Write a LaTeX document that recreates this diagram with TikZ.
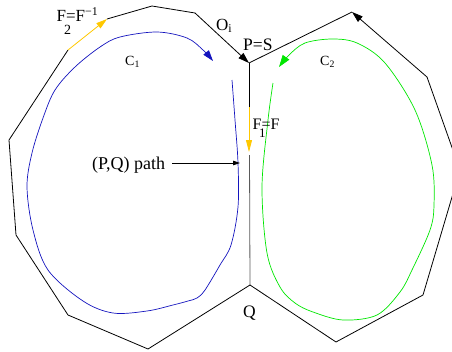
\documentclass[tikz,border=0pt]{standalone}
\usepackage{fontspec}
\setmainfont{Liberation Serif}
\usetikzlibrary{arrows.meta}
\definecolor{cblue}{RGB}{20,20,190}
\definecolor{cgreen}{RGB}{0,230,0}
\definecolor{cyell}{RGB}{255,200,0}
\definecolor{cgray}{RGB}{90,90,90}
\tikzset{
  edge/.style={draw=black,line width=0.8pt},
  bigarr/.style={-{Triangle[length=11pt,width=7pt]}},
  lab/.style={inner sep=0pt,anchor=base west,font=\fontsize{17.5}{17.5}\selectfont},
  flab/.style={inner sep=0pt,anchor=base west,font=\fontsize{17}{17}\selectfont},
  clab/.style={inner sep=0pt,anchor=base west,font=\fontsize{14}{14}\selectfont},
}
\begin{document}
\begin{tikzpicture}[x=1pt,y=-1pt]
\clip (0,0) rectangle (452,351);
% vertices
\coordinate (A) at (68,50);
\coordinate (B) at (107,19);
\coordinate (C) at (152,6);
\coordinate (D) at (195,13);
\coordinate (P) at (249,63);
\coordinate (Y1) at (249,107);
\coordinate (Y2) at (249,152);
\coordinate (G1) at (249.5,155);
\coordinate (Q) at (250,285);
\coordinate (E) at (148,349);
\coordinate (F) at (68,315);
\coordinate (G) at (16,235);
\coordinate (H) at (9,140);
\coordinate (R1) at (352,12);
\coordinate (R2) at (427,77);
\coordinate (R3) at (460,170);
\coordinate (R4) at (423,295);
\coordinate (R5) at (336,342);
% left polygon
\draw[edge] (B) -- (C) -- (D);
\draw[edge,bigarr] (D) -- (P);
\draw[edge] (P) -- (Y1);
\draw[draw=cyell,line width=0.8pt,-{Triangle[length=12pt,width=6pt]}] (Y1) -- (Y2);
\draw[draw=cgray,line width=0.8pt] (G1) -- (Q);
\draw[edge] (Q) -- (E) -- (F) -- (G) -- (H) -- (A);
\draw[draw=cyell,line width=0.8pt,-{Triangle[length=11pt,width=6.5pt]}] (A) -- (B);
% right polygon
\draw[edge] (P) -- (R1);
\draw[edge,bigarr] (R2) -- (R1);
\draw[edge] (R2) -- (R3) -- (R4) -- (R5) -- (Q);
% blue curve
\draw[cblue,line width=0.7pt,-{Triangle[length=11pt,width=7pt]}] plot[smooth,tension=0.55] coordinates {
 (232,80) (235,120) (238,163) (238,207) (231,245) (220,265) (205,290) (197,298) (188,301) (173,305) (147,311) (113,313) (83,301) (48,270) (33,230) (27,187) (32,153) (43,118) (55,90) (75,67) (100,47) (120,37) (157,32) (187,38) (203,50) (213,61)};
% green curve
\draw[cgreen,line width=0.7pt,-{Triangle[length=12pt,width=8pt]}] plot[smooth,tension=0.55] coordinates {
 (273,83) (268,120) (262,187) (267,253) (280,287) (295,303) (313,312) (343,320) (377,315) (400,292) (412,270) (430,230) (434,205) (432,165) (415,110) (385,63) (357,43) (332,39) (305,43) (289,55) (279,67)};
% labels
\node[flab] (f2) at (56.5,21.7) {F\rlap{\kern-0.12em\raisebox{-13pt}{\fontsize{14}{14}\selectfont 2}}=F\textsuperscript{−1}};
\node[clab] (c1) at (125,65) {C\textsubscript{1}};
\node[flab] (oi) at (216,30) {O\textsubscript{i}};
\node[lab] (ps) at (243,50) {P=S};
\node[clab] (c2) at (320,65) {C\textsubscript{2}};
\node[inner sep=0pt,anchor=base west,font=\fontsize{16}{16}\selectfont] (f1) at (252.5,129.5) {F\rlap{\kern-0.15em\raisebox{-8pt}{\fontsize{13}{13}\selectfont 1}}=F};
\node[inner sep=0pt,anchor=base west,font=\fontsize{18}{18}\selectfont] (pq) at (92,169) {(P,Q) path};
\coordinate (pqt) at (240,163);
\draw[line width=0.8pt,-{Triangle[length=7pt,width=4.5pt]}] (pq.east|-pqt) ++(7,0) -- (pqt);
\node[lab] (q) at (243,317) {Q};
\end{tikzpicture}
\end{document}
